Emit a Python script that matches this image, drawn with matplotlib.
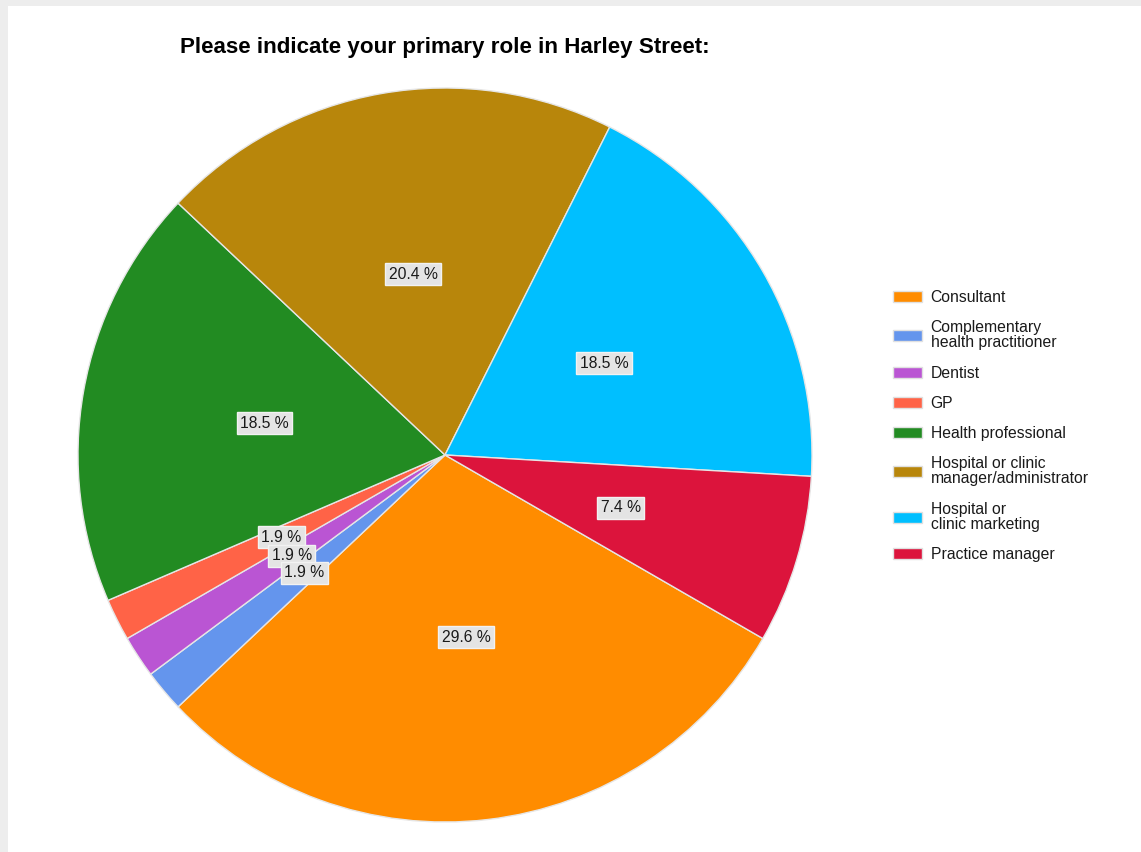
import matplotlib.pyplot as plt
from matplotlib.patches import Rectangle

# Survey responses (counts) for each role
roles = ['Consultant', 'Complementary\nhealth practitioner', 'Dentist', 'GP',
         'Health professional', 'Hospital or clinic\nmanager/administrator',
         'Hospital or\nclinic marketing', 'Practice manager']
counts = [16, 1, 1, 1, 10, 11, 10, 4]
colors = ['#FF8C00', '#6495ED', '#BA55D3', '#FF6347',
          '#228B22', '#B8860B', '#00BFFF', '#DC143C']

plt.rcParams['font.family'] = ['Liberation Sans', 'DejaVu Sans']

W, H = 1141, 852
fig = plt.figure(figsize=(W / 100, H / 100), dpi=100, facecolor='#ededed')

# white panel with a thin grey strip along the top and left
fig.patches.append(Rectangle((8 / W, 0), 1 - 8 / W, 1 - 6 / H,
                             transform=fig.transFigure, facecolor='white',
                             edgecolor='none', zorder=0))

# pie centred at (445, 455) px with a 367 px radius
cx, cy, r = 445, 455, 367
ax = fig.add_axes([(cx - r) / W, (H - cy - r) / H, 2 * r / W, 2 * r / H])
ax.set_zorder(1)

wedges, texts, autotexts = ax.pie(
    counts, colors=colors, startangle=-30, counterclock=False, radius=1,
    autopct=lambda p: f'{p:.1f} %', pctdistance=0.5,
    wedgeprops=dict(edgecolor='#e6e6e6', linewidth=1),
    textprops=dict(fontsize=11.3, color='#1a1a1a'))
# earlier slices' labels sit in front where the small ones overlap
for i, t in enumerate(autotexts):
    t.set_zorder(20 - i)
    t.set_bbox(dict(boxstyle='square,pad=0.22', facecolor='#e4e4e4',
                    edgecolor='#f2f2f2', linewidth=1))
ax.set_xlim(-1, 1)
ax.set_ylim(-1, 1)
ax.axis('off')

fig.text(cx / W, 1 - 47 / H, 'Please indicate your primary role in Harley Street:',
         ha='center', va='center', fontsize=16.1, fontweight='bold', color='black')

leg = fig.legend(wedges, roles, loc='center left',
                 bbox_to_anchor=(893 / W, 1 - 426 / H),
                 bbox_transform=fig.transFigure, frameon=False,
                 fontsize=11.3, borderpad=0, borderaxespad=0,
                 handlelength=1.85, handleheight=0.7, handletextpad=0.55,
                 labelspacing=0.97)
for t in leg.get_texts():
    t.set_linespacing(1.0)
    t.set_color('#1a1a1a')
for h in leg.legend_handles:
    h.set_edgecolor('#e0e0e0')

fig.savefig('out.png', dpi=100, facecolor=fig.get_facecolor())
